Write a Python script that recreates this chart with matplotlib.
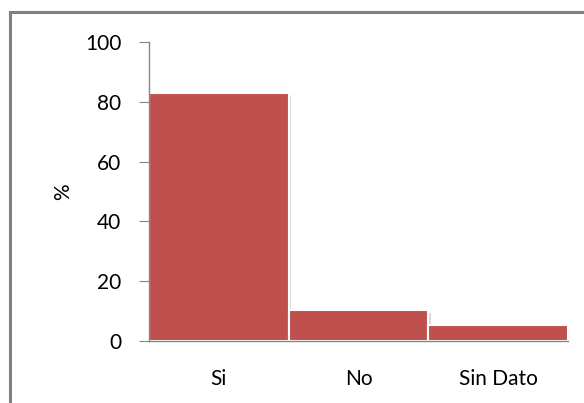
import matplotlib.pyplot as plt
from matplotlib.lines import Line2D
import matplotlib.patheffects as pe

# Datos
categorias = ['Si', 'No', 'Sin Dato']
porcentajes = [82.8, 10.2, 5.4]

plt.rcParams['font.family'] = ['Lato', 'DejaVu Sans']

fig = plt.figure(figsize=(5.84, 4.03), dpi=100)
ax = fig.add_axes([0.255, 0.154, 0.718, 0.742])

# Barras pegadas, borde blanco, sombra ligera
barras = ax.bar(range(len(categorias)), porcentajes, width=1.0, color='#C0504D',
                edgecolor='white', linewidth=1.5, zorder=2)
for b in barras:
    b.set_path_effects([pe.SimplePatchShadow(offset=(2, -1.5), shadow_rgbFace='#999999',
                                             alpha=0.35), pe.Normal()])

ax.set_xlim(-0.5, len(categorias) - 0.5)
ax.set_ylim(0, 100)
ax.set_yticks(range(0, 101, 20))
ax.set_xticks(range(len(categorias)))
ax.set_xticklabels(categorias)

for lado in ['top', 'right']:
    ax.spines[lado].set_visible(False)
for lado in ['left', 'bottom']:
    ax.spines[lado].set_color('#868686')
    ax.spines[lado].set_linewidth(1)
    ax.spines[lado].set_zorder(3)

ax.tick_params(axis='y', direction='out', length=7, color='#868686',
               labelsize=15, pad=13)
ax.tick_params(axis='x', length=0, labelsize=15, pad=20)
ax.set_ylabel('%', fontsize=15)
ax.yaxis.set_label_coords(-0.18, 0.5)

# Marco gris del gráfico
fig.add_artist(Line2D([10 / 584, 1], [1 - 12 / 403] * 2, color='#808080',
                      linewidth=2.2, transform=fig.transFigure))
fig.add_artist(Line2D([10 / 584] * 2, [0, 1 - 12 / 403], color='#808080',
                      linewidth=2.2, transform=fig.transFigure))

fig.savefig('out.png', dpi=100)
